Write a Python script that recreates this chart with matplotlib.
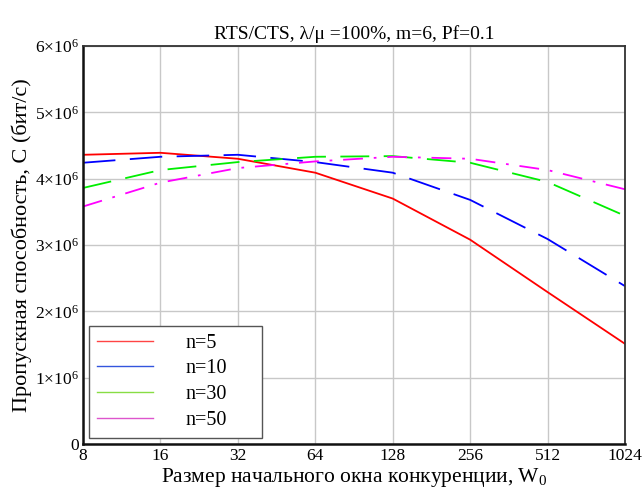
import numpy as np
import matplotlib.pyplot as plt
from matplotlib.ticker import FixedLocator, FuncFormatter

plt.rcParams['font.family'] = ['Liberation Serif', 'DejaVu Serif']
plt.rcParams['mathtext.fontset'] = 'custom'
plt.rcParams['mathtext.rm'] = 'Liberation Serif'
plt.rcParams['mathtext.it'] = 'Liberation Serif:italic'

# window sizes W0
w0 = [8, 16, 32, 64, 128, 256, 512, 1024]

# throughput, bit/s
c_n5 = [4.36e6, 4.39e6, 4.30e6, 4.09e6, 3.70e6, 3.08e6, 2.29e6, 1.51e6]
c_n10 = [4.24e6, 4.33e6, 4.36e6, 4.25e6, 4.09e6, 3.68e6, 3.09e6, 2.38e6]
c_n30 = [3.86e6, 4.13e6, 4.25e6, 4.33e6, 4.34e6, 4.24e6, 3.95e6, 3.44e6]
c_n50 = [3.58e6, 3.94e6, 4.16e6, 4.26e6, 4.33e6, 4.30e6, 4.13e6, 3.84e6]

labels = ['n=5', 'n=10', 'n=30', 'n=50']
yticks = [0, 1e6, 2e6, 3e6, 4e6, 5e6, 6e6]

fig = plt.figure(figsize=(6.44, 4.98), dpi=100)
ax = fig.add_axes([83/644, 1-444/498, (625-83)/644, (444-46)/498])

ax.plot(w0, c_n5, color='red', lw=1.3, ls='-')
ax.plot(w0, c_n10, color='blue', lw=1.3, ls=(0, (18, 8)))
ax.plot(w0, c_n30, color='#00ee00', lw=1.3, ls=(0, (16, 8)))
ax.plot(w0, c_n50, color='magenta', lw=1.3, ls=(0, (11, 6, 1.5, 6)))

ax.set_xscale('log', base=2)
ax.set_xlim(8, 1024)
ax.set_ylim(0, 6e6)
ax.xaxis.set_major_locator(FixedLocator(w0))
ax.xaxis.set_minor_locator(FixedLocator([]))
ax.xaxis.set_major_formatter(FuncFormatter(lambda v, p: '%d' % v))
ax.yaxis.set_major_locator(FixedLocator(yticks))


def yfmt(v, p):
    if v == 0:
        return '0'
    return r'$%d{\times}10^{6}$' % round(v / 1e6)


ax.yaxis.set_major_formatter(FuncFormatter(yfmt))
ax.tick_params(length=0, labelsize=12.5, pad=3)
ax.grid(True, color='#c8c8c8', lw=1.0)
for s in ax.spines.values():
    s.set_linewidth(1.3)
    s.set_color('#333333')
ax.spines['left'].set_linewidth(1.8)
ax.spines['bottom'].set_linewidth(1.8)
ax.spines['left'].set_color('#111111')
ax.spines['bottom'].set_color('#111111')

ax.set_title('RTS/CTS, λ/μ =100%, m=6, Pf=0.1', fontsize=14, pad=5)
ax.set_xlabel(r'Размер начального окна конкуренции, W$_0$', fontsize=15.5, labelpad=1)
ax.set_ylabel('Пропускная способность, C (бит/с)', fontsize=16, labelpad=2)

# legend shows solid handles
h = [plt.Line2D([], [], color=c, lw=1) for c in ['#ff4444', '#3355dd', '#88dd44', '#dd55cc']]
leg = ax.legend(h, labels, loc='lower left', bbox_to_anchor=(6/542, 6/398, 173/542, 0.28),
                mode='expand', fontsize=14.5, fancybox=False, framealpha=1, edgecolor='#555555',
                handlelength=2.8, handletextpad=1.6, borderpad=0.4, labelspacing=0.33,
                borderaxespad=0)
leg.get_frame().set_linewidth(1.0)

fig.savefig('out.png', dpi=100)
